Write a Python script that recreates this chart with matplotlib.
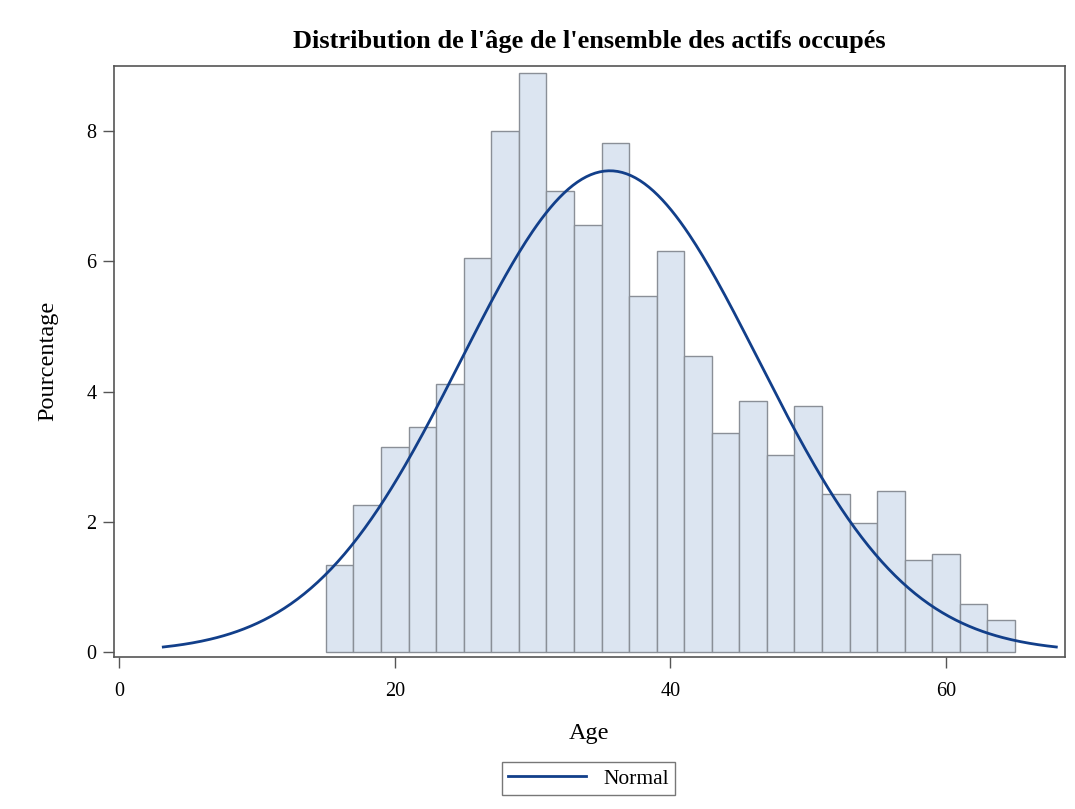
import numpy as np
import matplotlib
matplotlib.use("Agg")
import matplotlib.pyplot as plt

# Data
bin_edges = [15, 17, 19, 21, 23, 25, 27, 29, 31, 33, 35, 37, 39, 41, 43, 45, 47, 49,
             51, 53, 55, 57, 59, 61, 63, 65]
percentages = [1.34, 2.26, 3.15, 3.45, 4.12, 6.05, 8.00, 8.89, 7.08, 6.55, 7.82, 5.46,
               6.15, 4.54, 3.37, 3.86, 3.02, 3.78, 2.43, 1.98, 2.48, 1.42, 1.51, 0.74, 0.49]
normal_mean = 35.6
normal_sd = 10.8
bin_width = 2.0

title = "Distribution de l'âge de l'ensemble des actifs occupés"
xlabel = "Age"
ylabel = "Pourcentage"
x_ticks = [0, 20, 40, 60]
y_ticks = [0, 2, 4, 6, 8]

plt.rcParams['font.family'] = ['Liberation Serif', 'DejaVu Serif']

fig = plt.figure(figsize=(10.75, 8.09), dpi=100)
ax = fig.add_axes([0.106, 0.188, 0.8847, 0.7308])

lefts = np.array(bin_edges[:-1])
widths = np.diff(bin_edges)
ax.bar(lefts, percentages, width=widths, align='edge', color='#DCE5F1',
       edgecolor='#8A8F97', linewidth=1.0, zorder=2)

xs = np.linspace(normal_mean - 3 * normal_sd, normal_mean + 3 * normal_sd, 400)
ys = 100 * bin_width * np.exp(-0.5 * ((xs - normal_mean) / normal_sd) ** 2) / (normal_sd * np.sqrt(2 * np.pi))
ax.plot(xs, ys, color='#123F8A', linewidth=2.0, label='Normal', zorder=3)

ax.set_xlim(-0.38, 68.63)
ax.set_ylim(-0.07, 9.0)
ax.set_xticks(x_ticks)
ax.set_yticks(y_ticks)
ax.tick_params(axis='both', direction='out', length=8, width=1, color='#555555',
               labelsize=14.5)
ax.tick_params(axis='x', pad=10)
ax.tick_params(axis='y', pad=4.5)
for s in ax.spines.values():
    s.set_color('#555555')
    s.set_linewidth(1.2)

ax.set_title(title, fontsize=19, fontweight='bold', pad=13)
ax.set_xlabel(xlabel, fontsize=17.5, labelpad=16)
ax.set_ylabel(ylabel, fontsize=17.5, labelpad=20)

leg = fig.legend(loc='center', bbox_to_anchor=(0.5474, 0.0371), frameon=True,
                 fancybox=False, fontsize=15.5, handlelength=3.6, borderpad=0.3,
                 handletextpad=0.8, borderaxespad=0)
leg.get_frame().set_edgecolor('#555555')
leg.get_frame().set_linewidth(1.0)

fig.savefig('out.png', dpi=100)
